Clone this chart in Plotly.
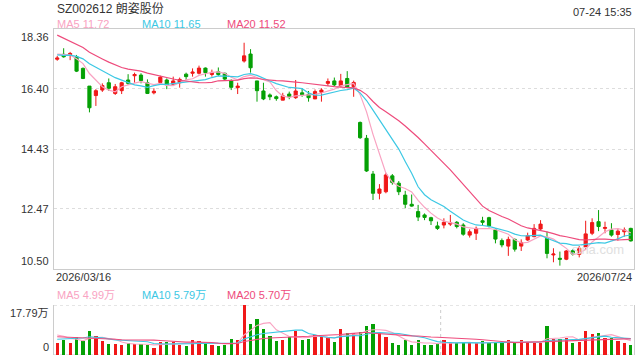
import plotly.graph_objects as go
import pandas as pd

# ---------------- data ----------------
title_text = "SZ002612 朗姿股份"
time_text = "07-24 15:35"
date_labels = ["2026/03/16", "2026/07/24"]

opens = [17.37, 17.53, 17.52, 17.45, 17.07, 16.49, 16.18, 16.36, 16.60, 16.25,
         16.34, 16.69, 16.83, 16.85, 16.60, 16.27, 16.61, 16.69, 16.55, 16.60,
         16.88, 16.91, 16.91, 17.08, 16.87, 16.96, 16.91, 16.67, 16.44, 17.31,
         17.54, 16.66, 16.33, 16.20, 16.14, 16.03, 16.23, 16.11, 16.27, 16.22,
         16.07, 16.29, 16.58, 16.66, 16.50, 16.74, 16.47, 15.30, 14.78, 13.61,
         12.98, 13.03, 13.55, 13.31, 12.92, 12.62, 12.38, 12.27, 12.18, 11.91,
         11.94, 11.97, 12.03, 11.94, 11.61, 11.67, 12.08, 12.18, 11.78, 11.43,
         11.25, 11.47, 11.25, 11.45, 11.56, 11.81, 11.50, 10.96, 10.85, 10.82,
         11.10, 10.98, 11.21, 11.67, 12.05, 11.83, 11.78, 11.63, 11.72, 11.83]
highs = [17.48, 17.73, 17.61, 17.51, 17.10, 16.49, 16.39, 16.58, 16.74, 16.56,
         16.63, 16.88, 16.93, 16.91, 16.71, 16.42, 16.83, 16.74, 16.80, 16.77,
         16.93, 17.07, 17.16, 17.10, 17.03, 17.10, 16.93, 16.71, 16.60, 17.91,
         17.70, 16.66, 16.60, 16.25, 16.18, 16.27, 16.31, 16.69, 16.42, 16.33,
         16.38, 16.42, 16.74, 16.77, 16.89, 16.98, 16.67, 15.33, 14.89, 13.71,
         13.28, 13.65, 13.61, 13.38, 13.06, 12.94, 12.60, 12.32, 12.21, 12.05,
         12.16, 12.27, 12.07, 12.00, 11.80, 11.89, 12.21, 12.21, 11.83, 11.50,
         11.56, 11.50, 11.47, 11.69, 11.97, 12.10, 11.72, 11.18, 11.07, 11.12,
         11.15, 11.25, 12.08, 12.16, 12.43, 12.05, 12.00, 11.83, 11.86, 11.85]
lows = [17.32, 17.42, 17.34, 16.95, 16.72, 15.63, 15.84, 16.30, 16.33, 16.20,
        16.23, 16.53, 16.60, 16.58, 16.23, 16.22, 16.58, 16.39, 16.50, 16.44,
        16.69, 16.80, 16.87, 16.80, 16.80, 16.82, 16.67, 16.36, 16.23, 17.26,
        16.93, 15.98, 16.03, 16.03, 16.01, 16.03, 16.06, 16.07, 16.14, 15.98,
        16.07, 15.98, 16.49, 16.49, 16.45, 16.42, 16.14, 14.76, 13.68, 12.76,
        12.78, 12.98, 13.26, 12.92, 12.49, 12.54, 12.07, 12.10, 11.94, 11.78,
        11.83, 11.91, 11.83, 11.59, 11.53, 11.45, 11.94, 11.86, 11.34, 11.21,
        10.93, 11.07, 11.09, 11.42, 11.54, 11.78, 10.85, 10.72, 10.61, 10.79,
        10.94, 10.88, 11.12, 11.61, 11.74, 11.67, 11.56, 11.43, 11.56, 11.40]
closes = [17.41, 17.45, 17.56, 16.98, 16.74, 15.78, 16.34, 16.51, 16.42, 16.47,
          16.60, 16.58, 16.87, 16.67, 16.25, 16.32, 16.78, 16.53, 16.66, 16.71,
          16.80, 16.95, 17.08, 16.93, 16.94, 16.87, 16.72, 16.45, 16.49, 17.48,
          17.09, 16.34, 16.07, 16.14, 16.08, 16.17, 16.14, 16.33, 16.21, 16.11,
          16.31, 16.36, 16.64, 16.53, 16.66, 16.45, 16.61, 14.80, 13.71, 12.98,
          13.12, 13.58, 13.33, 13.03, 12.62, 12.56, 12.20, 12.19, 12.08, 11.83,
          12.03, 12.01, 11.89, 11.64, 11.72, 11.83, 12.03, 11.91, 11.48, 11.29,
          11.47, 11.15, 11.37, 11.59, 11.83, 11.97, 11.01, 10.99, 10.82, 11.09,
          10.99, 11.18, 11.65, 12.02, 11.89, 11.86, 11.61, 11.74, 11.78, 11.42]
# closes of the 19 sessions before the window (estimated from MA lines)
prev_closes = [19.45, 19.30, 19.10, 19.05, 18.85, 18.70, 18.55, 18.50, 18.40, 18.20,
               17.60, 17.45, 17.40, 17.55, 17.40, 17.50, 17.65, 17.60, 17.54]

# volume in 万 (10k shares)
volumes = [4.38, 5.34, 4.38, 6.29, 4.98, 8.54, 6.76, 4.98, 3.91, 3.91,
           3.56, 4.15, 3.91, 3.91, 3.56, 2.49, 4.74, 4.74, 4.74, 3.56,
           3.20, 5.34, 4.98, 4.15, 3.56, 3.20, 3.56, 5.69, 5.34, 17.79,
           11.03, 12.81, 9.25, 6.76, 4.98, 5.34, 6.52, 8.54, 5.34, 5.69,
           7.12, 6.52, 6.29, 4.74, 9.25, 7.71, 7.71, 8.07, 10.44, 11.03,
           7.71, 6.52, 4.38, 3.56, 5.34, 3.56, 5.34, 3.56, 3.56, 4.15,
           5.34, 4.38, 4.38, 4.38, 4.15, 4.15, 4.98, 4.15, 4.74, 4.15,
           5.34, 4.38, 5.34, 4.74, 4.15, 4.15, 10.44, 5.69, 5.69, 6.17,
           4.38, 4.74, 8.54, 7.47, 7.95, 6.17, 6.17, 4.98, 4.38, 3.56]
prev_volumes = [7.0, 8.2, 6.8, 7.5, 8.0, 7.2, 6.9, 7.6, 7.4, 7.4,
                4.0, 4.3, 3.9, 4.2, 4.1, 7.5, 8.3, 7.6, 7.7]

price_ticks = [18.36, 16.40, 14.43, 12.47, 10.50]
price_tick_text = ["18.36", "16.40", "14.43", "12.47", "10.50"]
vol_max = 17.79
vol_tick_text = ["17.79万", "0"]

ma_names = ["MA5", "MA10", "MA20"]
ma_periods = [5, 10, 20]
ma_price_text = ["11.72", "11.65", "11.52"]
ma_vol_text = ["4.99万", "5.79万", "5.70万"]

# ---------------- styles ----------------
RED = "#f01818"
GREEN = "#05a005"
MA_COLORS = ["#f9a3c2", "#3cc8e4", "#ee4b7c"]
FONT = "Liberation Sans, Arial, Noto Sans CJK SC, sans-serif"
GRID = "#dddddd"
BORDER = "#cccccc"

n = len(closes)
xs = list(range(n))

full_c = pd.Series(prev_closes + closes)
full_v = pd.Series(prev_volumes + volumes)
np_prev = len(prev_closes)

fig = go.Figure()

fig.add_trace(go.Candlestick(
    x=xs, open=opens, high=highs, low=lows, close=closes,
    increasing=dict(line=dict(color=RED, width=1), fillcolor=RED),
    decreasing=dict(line=dict(color=GREEN, width=1), fillcolor=GREEN),
    whiskerwidth=0, xaxis="x", yaxis="y", hoverinfo="skip"))

for p, col in zip(ma_periods, MA_COLORS):
    ma = full_c.rolling(p, min_periods=1).mean().iloc[np_prev:].tolist()
    fig.add_trace(go.Scatter(x=xs, y=ma, mode="lines",
                             line=dict(color=col, width=1.2),
                             xaxis="x", yaxis="y", hoverinfo="skip"))

vcolors = [RED if c >= o else GREEN for o, c in zip(opens, closes)]
fig.add_trace(go.Bar(x=xs, y=volumes, marker=dict(color=vcolors, line=dict(width=0)),
                     width=0.5, xaxis="x2", yaxis="y2", hoverinfo="skip"))
for p, col in zip(ma_periods, MA_COLORS):
    mv = full_v.rolling(p, min_periods=1).mean().iloc[np_prev:].tolist()
    fig.add_trace(go.Scatter(x=xs, y=mv, mode="lines",
                             line=dict(color=col, width=1.1),
                             xaxis="x2", yaxis="y2", hoverinfo="skip"))

W, H = 640, 360
x0p, x1p = 54 / W, 634 / W
main_dom = [1 - 269 / H, 1 - 29 / H]
vol_dom = [1 - 355 / H, 1 - 305 / H]

annotations = []
annotations.append(dict(text=title_text, x=55 / W, y=1 - 9 / H, xref="paper", yref="paper",
                        xanchor="left", yanchor="middle", showarrow=False,
                        font=dict(size=12, color="#333333", family=FONT)))
annotations.append(dict(text=time_text, x=634 / W, y=1 - 12 / H, xref="paper", yref="paper",
                        xanchor="right", yanchor="middle", showarrow=False,
                        font=dict(size=11, color="#333333", family=FONT)))
legend_x = [55, 140, 225]
for name, val, col, lx in zip(ma_names, ma_price_text, MA_COLORS, legend_x):
    annotations.append(dict(text=f"{name} {val}", x=lx / W, y=1 - 24 / H, xref="paper", yref="paper",
                            xanchor="left", yanchor="middle", showarrow=False,
                            font=dict(size=11, color=col, family=FONT)))
for name, val, col, lx in zip(ma_names, ma_vol_text, MA_COLORS, legend_x):
    annotations.append(dict(text=f"{name} {val}", x=lx / W, y=1 - 295 / H, xref="paper", yref="paper",
                            xanchor="left", yanchor="middle", showarrow=False,
                            font=dict(size=11, color=col, family=FONT)))
for i, (tv, tt) in enumerate(zip(price_ticks, price_tick_text)):
    ya = "top" if i == 0 else ("bottom" if i == len(price_ticks) - 1 else "middle")
    annotations.append(dict(text=tt, x=51 / W, y=tv, xref="paper", yref="y",
                            xanchor="right", yanchor=ya, showarrow=False,
                            font=dict(size=11, color="#333333", family=FONT)))
annotations.append(dict(text=vol_tick_text[0], x=51 / W, y=vol_max, xref="paper", yref="y2",
                        xanchor="right", yanchor="top", showarrow=False,
                        font=dict(size=11, color="#333333", family=FONT)))
annotations.append(dict(text=vol_tick_text[1], x=51 / W, y=0, xref="paper", yref="y2",
                        xanchor="right", yanchor="bottom", showarrow=False,
                        font=dict(size=11, color="#333333", family=FONT)))
annotations.append(dict(text=date_labels[0], x=x0p, y=1 - 277 / H, xref="paper", yref="paper",
                        xanchor="left", yanchor="middle", showarrow=False,
                        font=dict(size=11, color="#333333", family=FONT)))
annotations.append(dict(text=date_labels[1], x=x1p, y=1 - 277 / H, xref="paper", yref="paper",
                        xanchor="right", yanchor="middle", showarrow=False,
                        font=dict(size=11, color="#333333", family=FONT)))
annotations.append(dict(text="sina.com", x=598 / W, y=1 - 249 / H, xref="paper", yref="paper",
                        xanchor="center", yanchor="middle", showarrow=False,
                        font=dict(size=13, color="#e0e0e0", family=FONT)))

shapes = [
    dict(type="line", xref="paper", yref="y2", x0=x0p, x1=x1p, y0=vol_max, y1=vol_max,
         line=dict(color=BORDER, width=1, dash="dot"), layer="below"),
    dict(type="line", xref="paper", yref="y2", x0=x0p, x1=x1p, y0=0, y1=0,
         line=dict(color=BORDER, width=1, dash="dot"), layer="below"),
    dict(type="line", xref="x2", yref="y2 domain", x0=59.5, x1=59.5, y0=0, y1=1,
         line=dict(color=BORDER, width=1, dash="dot"), layer="below"),
]

fig.update_layout(
    width=W, height=H, margin=dict(l=0, r=0, t=0, b=0),
    paper_bgcolor="white", plot_bgcolor="white", showlegend=False,
    bargap=0,
    xaxis=dict(domain=[x0p, x1p], range=[-0.5, n - 0.5], anchor="y",
               showgrid=False, zeroline=False, showticklabels=False, ticks="",
               showline=True, mirror=True, linecolor=BORDER, linewidth=1,
               rangeslider=dict(visible=False), fixedrange=True),
    yaxis=dict(domain=main_dom, range=[price_ticks[-1], price_ticks[0]], anchor="x",
               tickvals=price_ticks[1:-1], showticklabels=False, ticks="",
               showgrid=True, gridcolor=GRID, griddash="dot", gridwidth=1,
               zeroline=False, showline=True, mirror=True, linecolor=BORDER, linewidth=1),
    xaxis2=dict(domain=[x0p, x1p], range=[-0.5, n - 0.5], anchor="y2",
                showgrid=False, zeroline=False, showticklabels=False, ticks="",
                showline=False),
    yaxis2=dict(domain=vol_dom, range=[0, vol_max], anchor="x2",
                showgrid=False, zeroline=False, showticklabels=False, ticks="",
                showline=True, mirror=True, linecolor=BORDER, linewidth=1),
    annotations=annotations, shapes=shapes,
)

fig.write_html("out.html")
